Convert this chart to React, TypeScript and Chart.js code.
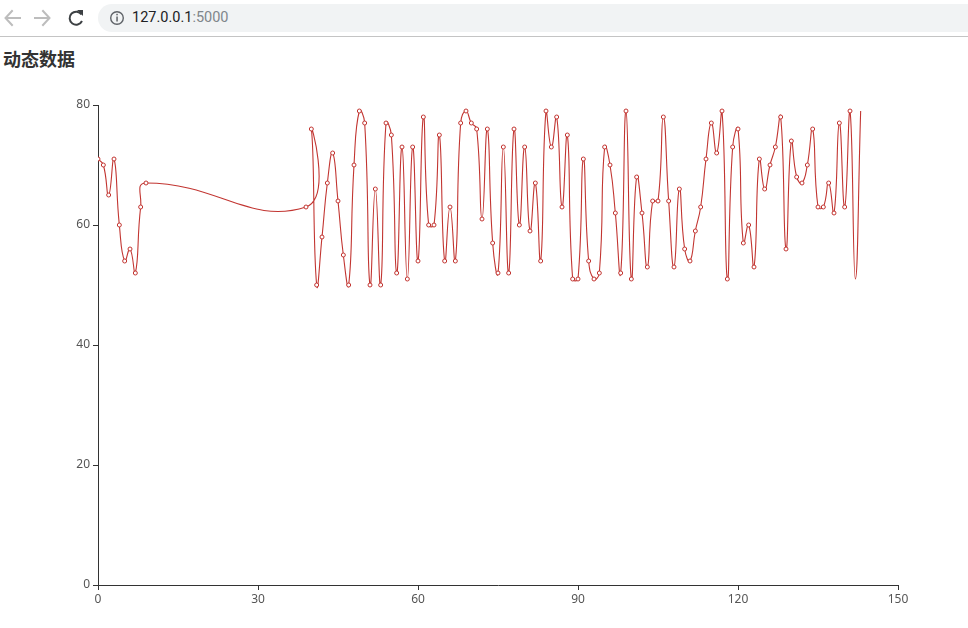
import React, { useEffect, useRef } from 'react';
import { Chart, registerables } from 'chart.js';

Chart.register(...registerables);

const TITLE = '动态数据';
const URL_HOST = '127.0.0.1';
const URL_PORT = ':5000';

const xValues = [
  0, 1, 2, 3, 4, 5, 6, 7, 8, 9,
  39, 40, 41, 42, 43, 44, 45, 46, 47, 48, 49, 50, 51, 52, 53, 54, 55, 56, 57, 58, 59,
  60, 61, 62, 63, 64, 65, 66, 67, 68, 69, 70, 71, 72, 73, 74, 75, 76, 77, 78, 79,
  80, 81, 82, 83, 84, 85, 86, 87, 88, 89, 90, 91, 92, 93, 94, 95, 96, 97, 98, 99,
  100, 101, 102, 103, 104, 105, 106, 107, 108, 109, 110, 111, 112, 113, 114, 115, 116, 117, 118, 119,
  120, 121, 122, 123, 124, 125, 126, 127, 128, 129, 130, 131, 132, 133, 134, 135, 136, 137, 138, 139,
  140, 141, 142, 143,
];

const yValues = [
  71, 70, 65, 71, 60, 54, 56, 52, 63, 67,
  63, 76, 50, 58, 67, 72, 64, 55, 50, 70, 79, 77, 50, 66, 50, 77, 75, 52, 73, 51, 73,
  54, 78, 60, 60, 75, 54, 63, 54, 77, 79, 77, 76, 61, 76, 57, 52, 73, 52, 76, 60,
  73, 59, 67, 54, 79, 73, 78, 63, 75, 51, 51, 71, 54, 51, 52, 73, 70, 62, 52, 79,
  51, 68, 62, 53, 64, 64, 78, 64, 53, 66, 56, 54, 59, 63, 71, 77, 72, 79, 51, 73,
  76, 57, 60, 53, 71, 66, 70, 73, 78, 56, 74, 68, 67, 70, 76, 63, 63, 67, 62, 77,
  63, 79, 51, 79,
];

// points drawn without a symbol (last ones, still animating in the original)
const noSymbolFromX = 142;

const xTicks = [0, 30, 60, 90, 120, 150];
const yTicks = [0, 20, 40, 60, 80];

const LINE_COLOR = '#c23531';
const AXIS_COLOR = '#333';
const LABEL_COLOR = '#555';
const FONT = "'Noto Sans', 'DejaVu Sans', sans-serif";

export default function App() {
  const ref = useRef<HTMLCanvasElement>(null);

  useEffect(() => {
    document.body.style.margin = '0';
    const canvas = ref.current;
    if (!canvas) return;
    const chart = new Chart(canvas, {
      type: 'line',
      data: {
        datasets: [
          {
            data: xValues.map((x, i) => ({ x, y: yValues[i] })),
            borderColor: LINE_COLOR,
            borderWidth: 1.1,
            tension: 0.5,
            fill: false,
            pointRadius: xValues.map((x) => (x >= noSymbolFromX ? 0 : 2)),
            pointBackgroundColor: '#fff',
            pointBorderColor: LINE_COLOR,
            pointBorderWidth: 1,
          },
        ],
      },
      options: {
        responsive: false,
        animation: false,
        events: [],
        plugins: { legend: { display: false }, tooltip: { enabled: false } },
        layout: { padding: { left: 58, top: 64, right: 70, bottom: 14 } },
        scales: {
          x: {
            type: 'linear',
            min: 0,
            max: 150,
            afterBuildTicks: (s: any) => {
              s.ticks = xTicks.map((v) => ({ value: v }));
            },
            afterFit: (s: any) => {
              s.height = 30;
            },
            grid: { drawOnChartArea: false, drawTicks: true, tickLength: 5, color: AXIS_COLOR, lineWidth: 1 },
            border: { display: true, color: AXIS_COLOR, width: 1 },
            ticks: { color: LABEL_COLOR, padding: 2, maxRotation: 0, autoSkip: false, font: { size: 12, family: FONT } },
          },
          y: {
            type: 'linear',
            min: 0,
            max: 80,
            afterBuildTicks: (s: any) => {
              s.ticks = yTicks.map((v) => ({ value: v }));
            },
            afterFit: (s: any) => {
              s.width = 40;
            },
            grid: { drawOnChartArea: false, drawTicks: true, tickLength: 5, color: AXIS_COLOR, lineWidth: 1 },
            border: { display: true, color: AXIS_COLOR, width: 1 },
            ticks: { color: LABEL_COLOR, padding: 3, autoSkip: false, font: { size: 12, family: FONT } },
          },
        },
      },
    } as any);
    return () => chart.destroy();
  }, []);

  return (
    <div style={{ position: 'fixed', left: 0, top: 0, width: 968, height: 628, background: '#fff', overflow: 'hidden' }}>
      {/* browser toolbar */}
      <svg width={968} height={37} style={{ position: 'absolute', left: 0, top: 0 }}>
        <g stroke="#bdbdbd" strokeWidth={2} fill="none" strokeLinecap="square">
          <path d="M6 18 H20 M12 11 L5.5 18 L12 25" />
          <path d="M35 18 H49 M43 11 L49.5 18 L43 25" />
        </g>
        <g stroke="#3c4043" strokeWidth={2} fill="none">
          <path d="M81.5 14.5 A6.5 6.5 0 1 0 82 21" />
        </g>
        <path d="M77 10 L83 10 L83 16 Z" fill="#3c4043" />
        <rect x={98} y={4} width={900} height={28} rx={14} fill="#f1f3f4" />
        <circle cx={117} cy={18} r={6.3} stroke="#5f6368" strokeWidth={1.4} fill="none" />
        <rect x={116.3} y={16.5} width={1.5} height={5} fill="#5f6368" />
        <rect x={116.3} y={13.8} width={1.5} height={1.5} fill="#5f6368" />
        <rect x={0} y={36} width={968} height={1} fill="#c4c4c4" />
      </svg>
      <div
        style={{
          position: 'absolute',
          left: 132,
          top: 8,
          fontFamily: "Roboto, 'Noto Sans', sans-serif",
          fontSize: 14.5,
          lineHeight: '19px',
          whiteSpace: 'nowrap',
        }}
      >
        <span style={{ color: '#202124' }}>{URL_HOST}</span>
        <span style={{ color: '#80868b' }}>{URL_PORT}</span>
      </div>
      <div
        style={{
          position: 'absolute',
          left: 3,
          top: 47,
          fontFamily: "'Noto Sans CJK SC', sans-serif",
          fontWeight: 'bold',
          fontSize: 18,
          lineHeight: '22px',
          color: '#333',
          whiteSpace: 'nowrap',
        }}
      >
        {TITLE}
      </div>
      <canvas
        ref={ref}
        width={968}
        height={588}
        style={{ position: 'absolute', left: 0, top: 41, width: 968, height: 588 }}
      />
    </div>
  );
}
